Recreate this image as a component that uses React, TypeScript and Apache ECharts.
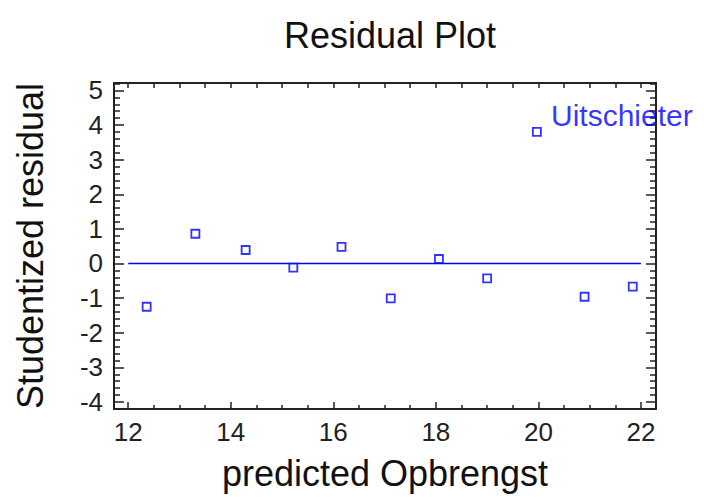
import React, { useEffect, useRef } from "react";
import * as echarts from "echarts";

// ---- data ----
const predicted = [12.36, 13.31, 14.29, 15.22, 16.16, 17.12, 18.06, 19.0, 19.97, 20.9, 21.84];
const residuals = [-1.25, 0.86, 0.39, -0.12, 0.48, -1.01, 0.13, -0.43, 3.8, -0.96, -0.67];
const zeroLineX = [12, 22];
const zeroLineY = [0, 0];
const outlierIndex = 8;
const outlierLabel = "Uitschieter";

const titleText = "Residual Plot";
const xAxisTitle = "predicted Opbrengst";
const yAxisTitle = "Studentized residual";

const xMajorTicks = [12, 14, 16, 18, 20, 22];
const yMajorTicks = [-4, -3, -2, -1, 0, 1, 2, 3, 4, 5];
const xRange = [11.723, 22.293];
const yRange = [-4.203, 5.214];

function minorBetween(major: number[], parts: number, lo: number, hi: number) {
  const out: number[] = [];
  const step = (major[1] - major[0]) / parts;
  for (let v = major[0] - 20 * step; v <= hi + 1e-9; v += step) {
    const r = Math.round(v * 1000) / 1000;
    if (r < lo - 1e-9) continue;
    if (major.some((m) => Math.abs(m - r) < 1e-6)) continue;
    out.push(r);
  }
  return out;
}

const FONT = "'Liberation Sans', Arial, sans-serif";
const AXIS_COLOR = "#222";
const BLUE = "#0000ff";

export default function App() {
  const ref = useRef<HTMLDivElement>(null);
  useEffect(() => {
    if (!ref.current) return;
    const chart = echarts.init(ref.current, undefined, { renderer: "svg" });
    const xMinor = minorBetween(xMajorTicks, 4, xRange[0], xRange[1]);
    const yMinor = minorBetween(yMajorTicks, 5, yRange[0], yRange[1]);
    const gridRect = { left: 114, top: 83, right: 48, bottom: 88 };
    const lineStyle = { color: AXIS_COLOR, width: 2 };
    const tickStyle = { color: AXIS_COLOR, width: 1.5 };

    const scatterData = predicted.map((x, i) =>
      i === outlierIndex
        ? {
            value: [x, residuals[i]],
            label: {
              show: true,
              formatter: outlierLabel,
              position: [19, -12],
              align: "left",
              verticalAlign: "middle",
              fontSize: 30,
              fontFamily: FONT,
              color: BLUE,
            },
          }
        : [x, residuals[i]]
    );

    chart.setOption({
      animation: false,
      backgroundColor: "#fff",
      title: {
        text: titleText,
        left: 279,
        top: 12,
        textStyle: { fontSize: 36, fontWeight: "normal", color: "#111", fontFamily: FONT },
      },
      grid: [
        { ...gridRect, containLabel: false },
        { ...gridRect, containLabel: false },
      ],
      xAxis: [
        {
          gridIndex: 0,
          type: "value",
          position: "bottom",
          min: xRange[0],
          max: xRange[1],
          axisLine: { show: true, onZero: false, lineStyle },
          axisTick: { show: true, inside: true, length: 7, customValues: xMajorTicks, lineStyle: tickStyle },
          axisLabel: { show: true, customValues: xMajorTicks, fontSize: 26, color: AXIS_COLOR, margin: 10, fontFamily: FONT },
          splitLine: { show: false },
          name: xAxisTitle,
          nameLocation: "middle",
          nameGap: 46,
          nameTextStyle: { fontSize: 36, color: "#111", fontFamily: FONT },
        },
        {
          gridIndex: 0,
          type: "value",
          position: "top",
          min: xRange[0],
          max: xRange[1],
          axisLine: { show: true, onZero: false, lineStyle },
          axisTick: { show: true, inside: true, length: 5, customValues: [...xMajorTicks, ...xMinor], lineStyle: tickStyle },
          axisLabel: { show: false },
          splitLine: { show: false },
        },
        {
          gridIndex: 1,
          type: "value",
          position: "bottom",
          min: xRange[0],
          max: xRange[1],
          axisLine: { show: false, onZero: false },
          axisTick: { show: true, inside: true, length: 4, customValues: xMinor, lineStyle: tickStyle },
          axisLabel: { show: false },
          splitLine: { show: false },
        },
      ],
      yAxis: [
        {
          gridIndex: 0,
          type: "value",
          position: "left",
          min: yRange[0],
          max: yRange[1],
          axisLine: { show: true, onZero: false, lineStyle },
          axisTick: { show: true, inside: true, length: 10, customValues: yMajorTicks, lineStyle: tickStyle },
          axisLabel: { show: true, customValues: yMajorTicks, fontSize: 26, color: AXIS_COLOR, margin: 11, fontFamily: FONT },
          splitLine: { show: false },
          name: yAxisTitle,
          nameLocation: "middle",
          nameRotate: 90,
          nameGap: 66,
          nameTextStyle: { fontSize: 36, color: "#111", fontFamily: FONT },
        },
        {
          gridIndex: 0,
          type: "value",
          position: "right",
          min: yRange[0],
          max: yRange[1],
          axisLine: { show: true, onZero: false, lineStyle },
          axisTick: { show: true, inside: true, length: 10, customValues: yMajorTicks, lineStyle: tickStyle },
          axisLabel: { show: false },
          splitLine: { show: false },
        },
        {
          gridIndex: 1,
          type: "value",
          position: "left",
          min: yRange[0],
          max: yRange[1],
          axisLine: { show: false, onZero: false },
          axisTick: { show: true, inside: true, length: 6, customValues: yMinor, lineStyle: tickStyle },
          axisLabel: { show: false },
          splitLine: { show: false },
        },
        {
          gridIndex: 1,
          type: "value",
          position: "right",
          min: yRange[0],
          max: yRange[1],
          axisLine: { show: false, onZero: false },
          axisTick: { show: true, inside: true, length: 6, customValues: yMinor, lineStyle: tickStyle },
          axisLabel: { show: false },
          splitLine: { show: false },
        },
      ],
      series: [
        {
          type: "line",
          xAxisIndex: 0,
          yAxisIndex: 0,
          data: zeroLineX.map((x, i) => [x, zeroLineY[i]]),
          showSymbol: false,
          symbol: "none",
          lineStyle: { color: BLUE, width: 1.5 },
          z: 2,
          silent: true,
        },
        {
          type: "scatter",
          xAxisIndex: 0,
          yAxisIndex: 0,
          data: scatterData,
          symbol: "rect",
          symbolSize: 8,
          itemStyle: { color: "#fff", borderColor: BLUE, borderWidth: 1.8 },
          z: 3,
        },
      ],
    });
    return () => chart.dispose();
  }, []);
  return (
    <div
      ref={ref}
      style={{ position: "fixed", left: 0, top: 0, width: 704, height: 497, background: "#fff" }}
    />
  );
}
